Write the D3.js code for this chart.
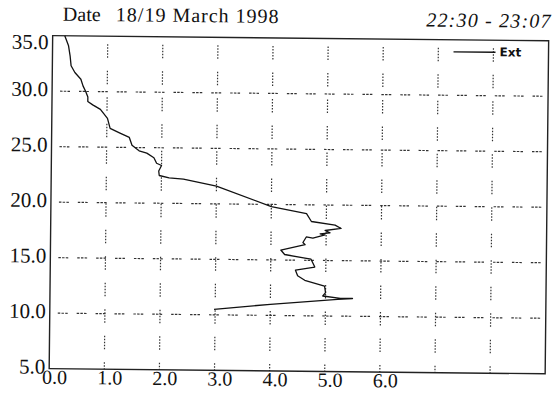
<!DOCTYPE html>
<html>
<head>
<meta charset="utf-8">
<script src="https://cdn.jsdelivr.net/npm/d3@7"></script>
<style>
  html, body { margin: 0; padding: 0; background: #fff; }
  svg { display: block; }
</style>
</head>
<body>
<svg id="chart" width="558" height="393"></svg>
<script>
// ---- data ----
const xTicks = [0, 1, 2, 3, 4, 5, 6];
const xGrid = [1, 2, 3, 4, 5, 6, 7, 8];
const yTicks = [5, 10, 15, 20, 25, 30, 35];
const yGrid = [10, 15, 20, 25, 30];
const titleLeft = "Date";
const titleDate = "18/19 March 1998";
const titleTime = "22:30 - 23:07";
const seriesName = "Ext";
// profile: value (x) and altitude (y)
const extValue = [0.22, 0.29, 0.32, 0.34, 0.41, 0.52, 0.56, 0.61, 0.65, 0.65, 0.74, 0.88, 1.01, 1.06, 1.23, 1.41, 1.46, 1.59, 1.73, 1.86, 1.91, 2.00, 1.95, 1.96, 2.14, 2.40, 3.00, 4.00, 4.64, 4.73, 5.16, 5.27, 4.98, 5.07, 4.89, 4.98, 4.76, 4.64, 4.58, 4.62, 4.18, 4.25, 4.62, 4.73, 4.80, 4.45, 4.49, 4.62, 4.98, 5.00, 4.95, 5.27, 5.49, 5.22, 4.00, 2.98];
const extAlt   = [35.0, 34.1, 33.2, 32.3, 31.7, 31.1, 30.5, 30.0, 29.5, 29.1, 28.8, 28.4, 27.6, 26.7, 26.3, 25.9, 25.2, 24.7, 24.5, 24.1, 23.6, 23.4, 22.9, 22.5, 22.3, 22.2, 21.6, 19.8, 19.2, 18.5, 18.2, 17.9, 17.7, 17.5, 17.4, 17.3, 17.0, 17.1, 16.6, 16.4, 15.9, 15.5, 15.2, 15.1, 14.4, 14.1, 13.6, 13.2, 12.7, 12.1, 11.8, 11.6, 11.6, 11.5, 11.0, 10.5];

// ---- layout ----
const W = 558, H = 393;
const L = 51, R = 547, T = 38, B = 371;
const ROT = 0.6;
const serif = "'Liberation Serif', 'Times New Roman', serif";

const svg = d3.select("#chart");
const g = svg.append("g").attr("transform", `rotate(${ROT}, ${W/2}, ${H/2})`);

const x = d3.scaleLinear().domain([0, 9]).range([L, R]);
const y = d3.scaleLinear().domain([5, 35]).range([B, T]);

// grid
g.append("g").selectAll("line").data(xGrid).join("line")
  .attr("x1", d => x(d)).attr("x2", d => x(d))
  .attr("y1", T + 8).attr("y2", B)
  .attr("stroke", "#333").attr("stroke-width", 1.2)
  .attr("stroke-dasharray", "1.5,1.5,1.5,1.5,1.5,1.5,1.5,1.5,1.5,13");

g.append("g").selectAll("line").data(yGrid).join("line")
  .attr("x1", L + 8).attr("x2", R)
  .attr("y1", d => y(d)).attr("y2", d => y(d))
  .attr("stroke", "#333").attr("stroke-width", 1.2)
  .attr("stroke-dasharray", "2.5,1.2,2.5,1.2,2.5,9");

// frame
g.append("rect")
  .attr("x", L).attr("y", T).attr("width", R - L).attr("height", B - T)
  .attr("fill", "none").attr("stroke", "#222").attr("stroke-width", 1.4);

// axes (labels only)
const yAxis = g.append("g").attr("transform", `translate(${L},0)`)
  .call(d3.axisLeft(y).tickValues(yTicks).tickFormat(d3.format(".1f")).tickSize(0).tickPadding(4));
yAxis.select(".domain").remove();
yAxis.selectAll("text").attr("font-family", serif).attr("font-size", 21).attr("fill", "#111")
  .attr("dy", d => d === 35 ? "0.62em" : "0.22em");

const xAxis = g.append("g").attr("transform", `translate(0,${B})`)
  .call(d3.axisBottom(x).tickValues(xTicks).tickFormat(d3.format(".1f")).tickSize(0).tickPadding(1));
xAxis.select(".domain").remove();
xAxis.selectAll("text").attr("font-family", serif).attr("font-size", 20).attr("fill", "#111")
  .attr("dx", 5);

// profile line
const pts = extValue.map((v, i) => [v, extAlt[i]]);
g.append("path")
  .datum(pts)
  .attr("fill", "none").attr("stroke", "#111").attr("stroke-width", 1.3)
  .attr("stroke-linejoin", "round")
  .attr("d", d3.line().x(d => x(d[0])).y(d => y(d[1])));

// legend
g.append("line").attr("x1", 452).attr("x2", 494).attr("y1", 50).attr("y2", 50)
  .attr("stroke", "#111").attr("stroke-width", 1.3);
g.append("text").attr("x", 498).attr("y", 54).text(seriesName)
  .attr("font-family", "'DejaVu Sans', sans-serif").attr("font-weight", "bold")
  .attr("font-size", 12).attr("fill", "#111");

// titles
g.append("text").attr("x", 61).attr("y", 23).text(titleLeft)
  .attr("font-family", serif).attr("font-size", 20).attr("fill", "#111");
g.append("text").attr("x", 114).attr("y", 23).text(titleDate)
  .attr("font-family", serif).attr("font-size", 20).attr("letter-spacing", 1).attr("fill", "#111");
g.append("text").attr("x", 550).attr("y", 25).attr("text-anchor", "end").text(titleTime)
  .attr("font-family", serif).attr("font-style", "italic").attr("font-size", 20)
  .attr("letter-spacing", 1.2).attr("fill", "#111");
</script>
</body>
</html>
